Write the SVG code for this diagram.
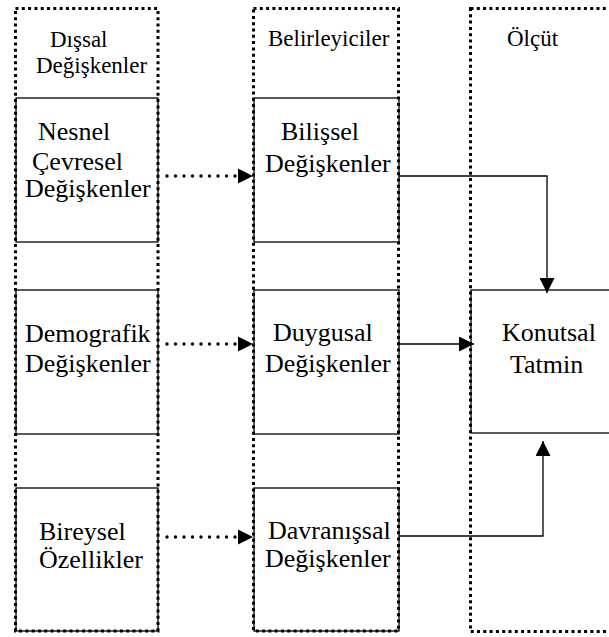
<svg xmlns="http://www.w3.org/2000/svg" width="609" height="637" viewBox="0 0 609 637" font-family="Liberation Serif">
<defs>
<marker id="ah" markerWidth="15" markerHeight="15" viewBox="0 0 15 15" refX="15" refY="7.5" orient="auto" markerUnits="userSpaceOnUse">
<path d="M0,0 L15,7.5 L0,15 Z" fill="#000"/>
</marker>
</defs>
<rect width="609" height="637" fill="#fff"/>

<g id="col-disal">
<g fill="none" stroke="#000" stroke-width="1.3">
<rect x="16" y="98" width="142" height="144"/>
<rect x="16" y="290" width="142" height="144"/>
<rect x="16" y="488" width="142" height="143"/>
</g>
<rect x="15.5" y="8.5" width="142.5" height="622.5" fill="none" stroke="#000" stroke-width="3" stroke-dasharray="3 3.3"/>
<text x="50" y="47" style="font-family:'Liberation Serif';font-size:23px">Dışsal</text>
<text x="36" y="73" style="font-family:'Liberation Serif';font-size:23px">Değişkenler</text>
</g>
<g id="col-belirleyiciler">
<g fill="none" stroke="#000" stroke-width="1.3">
<rect x="254" y="98" width="145" height="144"/>
<rect x="254" y="290" width="145" height="144"/>
<rect x="254" y="488" width="145" height="143"/>
</g>
<rect x="253.5" y="8.5" width="145" height="622.5" fill="none" stroke="#000" stroke-width="3" stroke-dasharray="3 3.3"/>
<text x="268" y="46" style="font-family:'Liberation Serif';font-size:23px">Belirleyiciler</text>
</g>
<g id="col-olcut">
<rect x="471" y="290" width="150" height="143" fill="none" stroke="#000" stroke-width="1.3"/>
<rect x="470.5" y="8.5" width="150" height="623" fill="none" stroke="#000" stroke-width="3" stroke-dasharray="3 3.3"/>
<text x="507" y="46" style="font-family:'Liberation Serif';font-size:23px">Ölçüt</text>
</g>

<g id="n-nesnel">
<text x="38" y="140" style="font-family:'Liberation Serif';font-size:26px">Nesnel</text>
<text x="32" y="170" style="font-family:'Liberation Serif';font-size:26px">Çevresel</text>
<text x="25" y="197" style="font-family:'Liberation Serif';font-size:26px">Değişkenler</text>
</g>
<g id="n-demografik">
<text x="25" y="342" style="font-family:'Liberation Serif';font-size:26px">Demografik</text>
<text x="25" y="372" style="font-family:'Liberation Serif';font-size:26px">Değişkenler</text>
</g>
<g id="n-bireysel">
<text x="39" y="540" style="font-family:'Liberation Serif';font-size:26px">Bireysel</text>
<text x="39" y="568" style="font-family:'Liberation Serif';font-size:26px">Özellikler</text>
</g>
<g id="n-bilissel">
<text x="281" y="140" style="font-family:'Liberation Serif';font-size:26px">Bilişsel</text>
<text x="265" y="172" style="font-family:'Liberation Serif';font-size:26px">Değişkenler</text>
</g>
<g id="n-duygusal">
<text x="273" y="341" style="font-family:'Liberation Serif';font-size:26px">Duygusal</text>
<text x="265" y="372" style="font-family:'Liberation Serif';font-size:26px">Değişkenler</text>
</g>
<g id="n-davranissal">
<text x="268" y="539" style="font-family:'Liberation Serif';font-size:26px">Davranışsal</text>
<text x="265" y="567" style="font-family:'Liberation Serif';font-size:26px">Değişkenler</text>
</g>
<g id="n-konutsal">
<text x="502" y="341" style="font-family:'Liberation Serif';font-size:26px">Konutsal</text>
<text x="510" y="373" style="font-family:'Liberation Serif';font-size:26px">Tatmin</text>
</g>

<g id="connectors">
<g fill="none" stroke="#000" stroke-width="3.4" stroke-linecap="round" stroke-dasharray="0 8.5">
<line x1="167" y1="176" x2="236" y2="176"/>
<line x1="167" y1="344" x2="236" y2="344"/>
<line x1="167" y1="537" x2="236" y2="537"/>
</g>
<path d="M238,168.5 L253,176 L238,183.5 Z" fill="#000"/>
<path d="M238,336.5 L253,344 L238,351.5 Z" fill="#000"/>
<path d="M238,529.5 L253,537 L238,544.5 Z" fill="#000"/>
<g fill="none" stroke="#000" stroke-width="1.3">
<polyline points="399,176 547,176 547,293" marker-end="url(#ah)"/>
<line x1="399" y1="344" x2="474" y2="344" marker-end="url(#ah)"/>
<polyline points="399,536 543,536 543,441" marker-end="url(#ah)"/>
</g>
</g>
</svg>
